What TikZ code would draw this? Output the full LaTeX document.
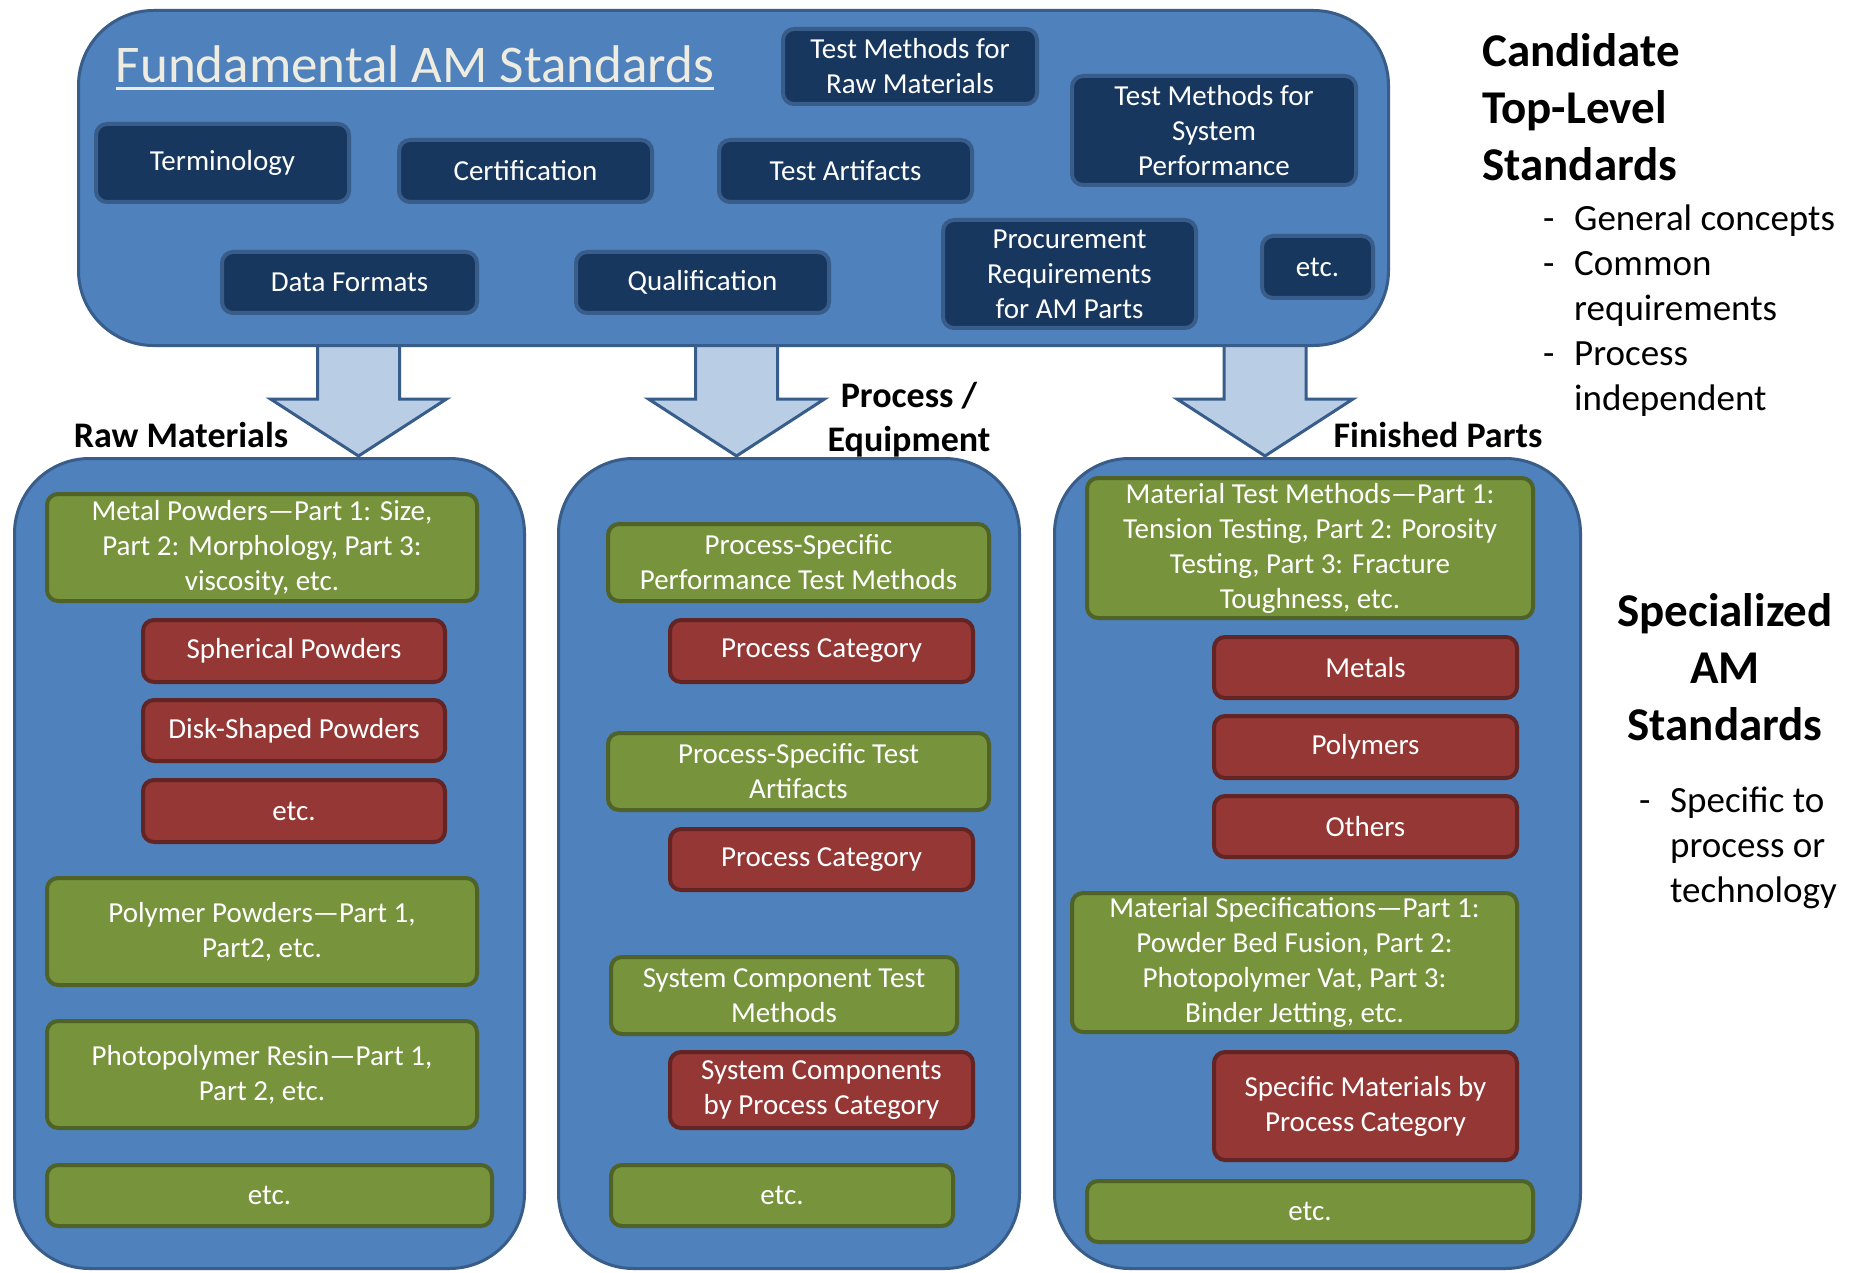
\documentclass[tikz,border=0pt]{standalone}
\usepackage{fontspec}
\setmainfont{Carlito}
\definecolor{pblue}{HTML}{4F81BD}
\definecolor{pline}{HTML}{385D8A}
\definecolor{navy}{HTML}{17375E}
\definecolor{afill}{HTML}{B9CDE5}
\definecolor{gfill}{HTML}{77933C}
\definecolor{gline}{HTML}{4F6228}
\definecolor{rfill}{HTML}{953735}
\definecolor{rline}{HTML}{632523}
\definecolor{cream}{HTML}{EEECE1}
\tikzset{
  panel/.style={fill=pblue, draw=pline, line width=3pt, rounded corners=75pt, inner sep=0pt},
  boxbase/.style={line width=4pt, rounded corners=11pt, text=white, align=center, inner sep=1pt,
    font=\fontsize{29}{35}\selectfont},
  navybox/.style={boxbase, fill=navy, draw=pline},
  greenbox/.style={boxbase, fill=gfill, draw=gline},
  redbox/.style={boxbase, fill=rfill, draw=rline},
  arrowfill/.style={fill=afill},
  arrowline/.style={draw=pline, line width=3pt, line join=miter},
  lbl/.style={font=\bfseries\fontsize{36}{44}\selectfont, align=center, inner sep=0pt},
  head/.style={font=\bfseries\fontsize{47}{57}\selectfont, inner sep=0pt},
  note/.style={font=\fontsize{37}{45}\selectfont, align=left, inner sep=0pt},
}
\begin{document}
\begin{tikzpicture}[x=1pt,y=-1pt]
\useasboundingbox[fill=white] (0,0) rectangle (1858,1273);

% block arrows
\foreach \cx in {358.5,736.5,1265}{
  \fill[arrowfill] (\cx-41,345) -- (\cx-41,399) -- (\cx-88,399) -- (\cx,456) -- (\cx+88,399) -- (\cx+41,399) -- (\cx+41,345) -- cycle;
  \draw[arrowline] (\cx-41,346) -- (\cx-41,399) -- (\cx-88,399) -- (\cx,456) -- (\cx+88,399) -- (\cx+41,399) -- (\cx+41,346);
}

% top panel
\node[panel, minimum width=1310, minimum height=335] (top) at (733.5,178) {};
\node[inner sep=0pt, anchor=base, text=cream, font=\fontsize{53}{60}\selectfont] (title) at (415,83) {Fundamental AM Standards};
\draw[cream, line width=3pt] ([yshift=-6pt]title.base west) -- ([yshift=-6pt]title.base east);

\node[navybox, minimum width=254, minimum height=75] (rawtm) at (910,66.5) {Test Methods for\\Raw Materials};
\node[navybox, minimum width=253, minimum height=78] (term) at (222.5,163) {Terminology};
\node[navybox, minimum width=253, minimum height=62] (cert) at (525.5,171) {Certification};
\node[navybox, minimum width=253, minimum height=62] (art) at (845.5,171) {Test Artifacts};
\node[navybox, minimum width=284, minimum height=109] (systm) at (1214,130.5) {Test Methods for\\System\\Performance};
\node[navybox, minimum width=255, minimum height=61] (data) at (349.5,282.5) {Data Formats};
\node[navybox, minimum width=253, minimum height=61] (qual) at (702.5,282.5) {Qualification};
\node[navybox, minimum width=253, minimum height=108] (proc) at (1069.5,274) {Procurement\\Requirements\\for AM Parts};
\node[navybox, minimum width=111, minimum height=62] (tetc) at (1317.5,267) {etc.};

% bottom panels
\node[panel, minimum width=510, minimum height=810] (left) at (269.5,863.5) {};
\node[panel, minimum width=461, minimum height=810] (mid) at (789,863.5) {};
\node[panel, minimum width=526, minimum height=810] (right) at (1317.5,863.5) {};

% labels
\node[lbl] (rawlbl) at (181,435) {Raw Materials};
\node[lbl] (proclbl) at (909,420) {Process /\\Equipment};
\node[lbl] (finlbl) at (1438,435) {Finished Parts};

% left panel
\node[greenbox, minimum width=430, minimum height=107] (metal) at (262,547.5) {Metal Powders—Part 1: Size,\\Part 2: Morphology, Part 3:\\viscosity, etc.};
\node[redbox, minimum width=302, minimum height=62] (sph) at (294,651) {Spherical Powders};
\node[redbox, minimum width=302, minimum height=61] (disk) at (294,730.5) {Disk-Shaped Powders};
\node[redbox, minimum width=302, minimum height=62] (lretc) at (294,811) {etc.};
\node[greenbox, minimum width=430, minimum height=107] (poly) at (262,931.5) {Polymer Powders—Part 1,\\Part2, etc.};
\node[greenbox, minimum width=430, minimum height=107] (photo) at (262,1074.5) {Photopolymer Resin—Part 1,\\Part 2, etc.};
\node[greenbox, minimum width=445, minimum height=61] (lgetc) at (269.5,1195.5) {etc.};

% middle panel
\node[greenbox, minimum width=381, minimum height=77] (psp) at (798.5,562.5) {Process-Specific\\Performance Test Methods};
\node[redbox, minimum width=303, minimum height=62] (pc1) at (821.5,651) {Process Category};
\node[greenbox, minimum width=381, minimum height=77] (psa) at (798.5,771.5) {Process-Specific Test\\Artifacts};
\node[redbox, minimum width=303, minimum height=61] (pc2) at (821.5,859.5) {Process Category};
\node[greenbox, minimum width=346, minimum height=77] (sct) at (784,995.5) {System Component Test\\Methods};
\node[redbox, minimum width=303, minimum height=76] (scp) at (821.5,1090) {System Components\\by Process Category};
\node[greenbox, minimum width=342, minimum height=61] (metc) at (782,1195.5) {etc.};

% right panel
\node[greenbox, minimum width=446, minimum height=140] (mtm) at (1310,548) {Material Test Methods—Part 1:\\Tension Testing, Part 2: Porosity\\Testing, Part 3: Fracture\\Toughness, etc.};
\node[redbox, minimum width=303, minimum height=61] (metals) at (1365.5,667.5) {Metals};
\node[redbox, minimum width=303, minimum height=62] (polys) at (1365.5,747) {Polymers};
\node[redbox, minimum width=303, minimum height=61] (others) at (1365.5,826.5) {Others};
\node[greenbox, minimum width=445, minimum height=139] (mspec) at (1294.5,962.5) {Material Specifications—Part 1:\\Powder Bed Fusion, Part 2:\\Photopolymer Vat, Part 3:\\Binder Jetting, etc.};
\node[redbox, minimum width=303, minimum height=108] (smat) at (1365.5,1106) {Specific Materials by\\Process Category};
\node[greenbox, minimum width=446, minimum height=61] (retc) at (1310,1211.5) {etc.};

% right-side texts
\node[head, align=left, anchor=west] (cand) at (1482,107) {Candidate\\Top-Level\\Standards};
\node[note, anchor=north west] (candd) at (1543,199) {\strut-\\\strut-\\\strut\\\strut-\\\strut};
\node[note, anchor=north west] (candt) at (1574,199) {\strut General concepts\\\strut Common\\\strut requirements\\\strut Process\\\strut independent};
\node[head, align=center] (spec) at (1725,667) {Specialized\\AM\\Standards};
\node[note, anchor=north west] (specd) at (1639,781) {\strut-\\\strut\\\strut};
\node[note, anchor=north west] (spect) at (1670,781) {\strut Specific to\\\strut process or\\\strut technology};
\end{tikzpicture}
\end{document}
